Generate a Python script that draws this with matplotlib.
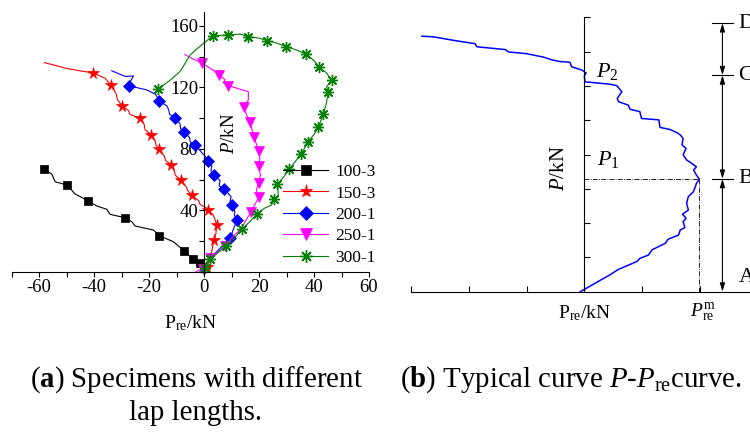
import matplotlib
matplotlib.use("Agg")
import matplotlib.pyplot as plt
from matplotlib.lines import Line2D
from matplotlib.ticker import MultipleLocator

plt.rcParams['font.family'] = ['Liberation Serif', 'DejaVu Serif']
plt.rcParams['mathtext.fontset'] = 'custom'
plt.rcParams['mathtext.rm'] = 'Liberation Serif'
plt.rcParams['mathtext.it'] = 'Liberation Serif:italic'
plt.rcParams['mathtext.bf'] = 'Liberation Serif:bold'

# ---------------- panel (a) data ----------------
labels = ['100-3', '150-3', '200-1', '250-1', '300-1']

s100_x = [0.4, -1.5, -4.1, -7.2, -11.2, -16.3, -18.4, -25.1, -26.3, -28.7, -34.2, -35.4, -39.0, -42.3, -46.9, -49.9, -54.2, -55.4, -58.4]
s100_y = [3.5, 5.6, 8.3, 13.7, 19.7, 23.6, 27.3, 29.9, 32.7, 35.3, 37.5, 40.8, 42.9, 46.4, 50.7, 56.6, 58.7, 63.7, 66.8]
m100_x = [-58.4, -49.9, -42.3, -28.7, -16.3, -7.2, -4.1, -1.5]
m100_y = [66.8, 56.6, 46.4, 35.3, 23.6, 13.7, 8.3, 5.6]

s150_x = [0.0, 1.0, 2.4, 3.6, 4.3, 4.6, 4.0, 3.4, 1.6, 0.5, -1.5, -2.0, -4.5, -6.0, -6.5, -8.5, -10.5, -10.8, -12.0, -14.0, -14.5, -16.3, -17.5, -17.8, -19.3, -21.5, -21.8, -23.3, -27.0, -27.5, -29.9, -31.5, -32.0, -33.9, -36.0, -40.5, -44.0, -50.0, -58.1]
s150_y = [0.0, 3.5, 10.0, 20.8, 25.0, 30.6, 33.8, 37.0, 40.3, 42.0, 44.0, 46.5, 49.8, 53.0, 55.5, 59.8, 63.0, 65.5, 69.8, 72.5, 75.5, 79.7, 82.5, 85.5, 89.4, 92.5, 96.0, 100.0, 102.5, 105.0, 108.1, 112.0, 116.0, 121.5, 126.0, 129.6, 130.5, 132.4, 136.2]
m150_x = [-40.5, -33.9, -29.9, -23.3, -19.3, -16.3, -12.0, -8.5, -4.5, 1.6, 4.6, 3.6, 1.0]
m150_y = [129.6, 121.5, 108.1, 100.0, 89.4, 79.7, 69.8, 59.8, 49.8, 40.3, 30.6, 20.8, 3.5]

s200_x = [-1.5, 0.5, 2.2, 5.0, 7.6, 9.5, 10.5, 11.9, 11.0, 11.2, 10.3, 9.5, 9.8, 7.4, 5.5, 5.8, 3.6, 2.5, 2.8, 1.6, 0.0, -1.5, -3.3, -5.0, -5.3, -7.2, -8.5, -8.8, -10.5, -12.5, -12.8, -13.5, -16.4, -17.6, -20.8, -27.5, -26.9, -25.7, -28.7, -33.6]
s200_y = [0.5, 5.0, 8.9, 14.0, 18.7, 21.9, 27.0, 33.8, 37.0, 39.0, 43.6, 46.0, 49.0, 53.8, 56.0, 59.5, 63.1, 65.5, 69.0, 72.4, 76.0, 79.0, 82.6, 84.5, 87.5, 90.9, 93.0, 96.5, 100.4, 102.5, 105.0, 108.0, 111.4, 115.5, 118.4, 121.2, 123.8, 127.5, 127.2, 130.9]
m200_x = [9.5, 11.9, 10.3, 7.4, 3.6, 1.6, -3.3, -7.2, -10.5, -16.4, -27.5]
m200_y = [21.9, 33.8, 43.6, 53.8, 63.1, 72.4, 82.6, 90.9, 100.4, 111.4, 121.2]

s250_x = [-3.0, -1.0, 2.2, 5.0, 7.6, 10.5, 13.7, 14.9, 17.1, 18.5, 20.1, 19.0, 19.8, 20.5, 19.8, 20.3, 19.8, 18.3, 17.5, 16.7, 15.5, 14.5, 16.1, 16.1, 12.0, 8.8, 7.0, 7.6, 5.6, 3.5, -0.85, -4.0, -7.0]
s250_y = [0.0, 2.0, 8.9, 13.0, 16.9, 23.0, 28.4, 32.7, 39.2, 44.0, 49.0, 53.0, 58.1, 63.0, 68.9, 74.0, 78.5, 87.6, 92.0, 97.8, 102.0, 107.5, 111.9, 117.3, 119.5, 121.2, 123.0, 125.0, 128.1, 131.0, 136.1, 138.5, 141.5]
m250_x = [-0.85, 5.6, 8.8, 14.5, 16.7, 18.3, 19.8, 19.8, 19.8, 20.1, 17.1, 7.6, 2.2, -0.5]
m250_y = [136.1, 128.1, 121.2, 107.5, 97.8, 87.6, 78.5, 68.9, 58.1, 49.0, 39.2, 16.9, 8.9, 2.0]

s300_x = [-1.0, 2.2, 5.0, 8.0, 11.0, 13.7, 16.5, 19.2, 22.0, 24.5, 25.6, 27.0, 26.7, 29.0, 31.0, 33.0, 35.3, 37.9, 40.0, 41.6, 42.5, 43.4, 44.5, 45.2, 44.5, 45.5, 46.4, 44.5, 41.7, 40.0, 37.1, 33.5, 29.7, 26.5, 23.0, 19.5, 15.9, 13.1, 8.6, 3.2, -0.2, -3.0, -5.1, -8.7, -12.5, -16.9]
s300_y = [0.0, 8.2, 12.5, 16.9, 22.0, 27.8, 32.5, 37.7, 41.5, 43.5, 47.3, 50.0, 57.0, 62.0, 66.8, 71.5, 76.7, 84.8, 89.5, 94.1, 98.5, 102.6, 110.0, 117.3, 120.5, 122.5, 124.9, 129.5, 133.5, 137.5, 141.8, 144.5, 146.6, 148.8, 150.5, 152.3, 153.1, 154.8, 154.1, 153.7, 148.7, 144.5, 141.1, 130.5, 124.5, 118.8]
m300_x = [0.5, 2.2, 8.0, 13.7, 19.2, 25.6, 26.7, 31.0, 35.3, 37.9, 41.6, 43.4, 45.2, 46.4, 41.7, 37.1, 29.7, 23.0, 15.9, 8.6, 3.2, -16.9]
m300_y = [2.5, 8.2, 16.9, 27.8, 37.7, 47.3, 57.0, 66.8, 76.7, 84.8, 94.1, 102.6, 117.3, 124.9, 133.5, 141.8, 146.6, 150.5, 153.1, 154.1, 153.7, 118.8]

a_xticks = [-60, -40, -20, 0, 20, 40, 60]
a_yticks = [40, 80, 120, 160]

# ---------------- panel (b) data ----------------
b_x = [-0.07, 0.44, 0.59, 0.91, 0.96, 1.11, 1.17, 1.40, 1.45, 1.63, 1.66, 1.74, 1.71, 1.76, 1.70, 1.80, 1.77, 1.80, 1.89, 1.92, 1.94, 1.99,
       1.94, 1.89, 1.94, 1.86, 1.77, 1.71, 1.76, 1.69, 1.71, 1.66, 1.60, 1.48, 1.31, 1.29, 0.99, 0.96, 0.79, 0.76, 0.59, 0.57, 0.65, 0.56,
       0.44, 0.01, 0.00, 0.03, -0.04, -0.22, -0.25, -0.42, -0.54, -0.71, -1.00, -1.31, -1.37, -1.86, -1.89, -2.27, -2.61, -2.81]
b_y = [0.00, 0.49, 0.65, 0.88, 0.97, 1.07, 1.22, 1.41, 1.53, 1.65, 1.80, 1.87, 2.04, 2.14, 2.26, 2.38, 2.58, 2.77, 2.92, 3.06, 3.16, 3.28,
       3.40, 3.55, 3.64, 3.74, 3.84, 3.99, 4.18, 4.28, 4.47, 4.57, 4.64, 4.73, 4.79, 5.01, 5.05, 5.25, 5.32, 5.44, 5.54, 5.64, 5.83, 6.01,
       6.05, 6.12, 6.29, 6.38, 6.46, 6.56, 6.69, 6.71, 6.75, 6.84, 6.94, 6.99, 7.06, 7.14, 7.23, 7.33, 7.43, 7.45]
peak_x, peak_y = 1.99, 3.28
levels = {'D': 7.83, 'C': 6.31, 'B': 3.29, 'A': 0.0}

W, H = 750, 432
fig = plt.figure(figsize=(7.5, 4.32), dpi=100)

def fx(px):
    return px / W

def fy(py):
    return 1 - py / H

# ---------------- panel (a) ----------------
ax = fig.add_axes([fx(11.7), fy(272), fx(369) - fx(11.7), fy(11.7) - fy(272)])
ax.set_xlim(-70, 60)
ax.set_ylim(0, 169.3)
ax.spines['left'].set_position(('data', 0))
ax.spines['top'].set_visible(False)
ax.spines['right'].set_visible(False)
for s in ['left', 'bottom']:
    ax.spines[s].set_linewidth(0.8)
ax.set_xticks(a_xticks)
ax.set_yticks(a_yticks)
ax.xaxis.set_minor_locator(MultipleLocator(10))
ax.yaxis.set_minor_locator(MultipleLocator(20))
ax.tick_params(axis='both', which='both', direction='out', width=0.8, labelsize=13.5)
ax.tick_params(axis='both', which='major', length=3.3)
ax.tick_params(axis='both', which='minor', length=3.3)
ax.tick_params(axis='x', pad=2)
ax.tick_params(axis='y', pad=1)
ax.set_xticklabels([str(t) for t in a_xticks])

styles = [
    dict(color='black', marker='s', ms=6),
    dict(color='#ff0000', marker='*', ms=8.5),
    dict(color='#0000ff', marker='D', ms=5.8),
    dict(color='#ff00ff', marker='v', ms=7.5),
    dict(color='#008000', marker=(8, 2, 0), ms=8),
]
lines = [(s100_x, s100_y), (s150_x, s150_y), (s200_x, s200_y), (s250_x, s250_y), (s300_x, s300_y)]
marks = [(m100_x, m100_y), (m150_x, m150_y), (m200_x, m200_y), (m250_x, m250_y), (m300_x, m300_y)]
handles = []
for (lx, ly), (mx, my), st, lab in zip(lines, marks, styles, labels):
    ax.plot(lx, ly, color=st['color'], lw=0.8, clip_on=False)
    mew = 1.0 if st['marker'] == (8, 2, 0) else 0.5
    ax.plot(mx, my, ls='none', marker=st['marker'], ms=st['ms'], color=st['color'],
            mec=st['color'], mew=mew, clip_on=False)
    handles.append(Line2D([], [], color=st['color'], lw=0.8, marker=st['marker'],
                          ms=st['ms'] + 1, mec=st['color'], mew=mew))

ax.legend(handles, labels, loc='upper left', bbox_to_anchor=(fx(283), fy(164)),
          bbox_transform=fig.transFigure, frameon=False, borderpad=0, borderaxespad=0,
          handlelength=2.6, handletextpad=0.4, labelspacing=0.3, fontsize=12.5)

fig.text(fx(230), fy(133), r'$P$/kN', rotation=90, ha='center', va='center', fontsize=13.5)
fig.text(fx(190), fy(323), r'P$_{\mathrm{re}}$/kN', ha='center', va='center', fontsize=14)

# ---------------- panel (b) ----------------
bx = fig.add_axes([fx(411), fy(291.7), 1 - fx(411), fy(17.3) - fy(291.7)])
bx.set_xlim(-3.0, 2.867)
bx.set_ylim(0, 8)
bx.spines['left'].set_position(('data', 0))
bx.spines['top'].set_visible(False)
bx.spines['right'].set_visible(False)
for s in ['left', 'bottom']:
    bx.spines[s].set_linewidth(0.8)
bx.set_xticks([-3, -2, -1, 0, 1, 2])
bx.set_yticks([1, 2, 3, 4, 5, 6, 7, 8])
bx.tick_params(axis='both', direction='in', width=0.8, length=4, labelbottom=False, labelleft=False)

bx.plot(b_x, b_y, color='#0000ff', lw=1.1, clip_on=False)
dash = (0, (6, 1.5, 1, 1.5))
bx.plot([0, peak_x], [peak_y, peak_y], color='black', lw=0.6, ls=dash)
bx.plot([peak_x, peak_x], [peak_y, 0], color='black', lw=0.6, ls=dash)

xv = 2.39
for lab in ['D', 'C', 'B']:
    bx.plot([2.21, 2.57], [levels[lab], levels[lab]], color='black', lw=0.8, clip_on=False)
pairs = [('D', 'C'), ('C', 'B'), ('B', 'A')]
for a, b in pairs:
    bx.annotate('', xy=(xv, levels[a]), xytext=(xv, levels[b]),
                arrowprops=dict(arrowstyle='<|-|>,head_length=0.5,head_width=0.15', color='black',
                                lw=0.8, shrinkA=0, shrinkB=0), annotation_clip=False)
label_y = {'D': 7.83, 'C': 6.31, 'B': 3.29, 'A': 0.4}
for lab in ['D', 'C', 'B', 'A']:
    bx.text(2.67, label_y[lab], lab, ha='left', va='center', fontsize=16, clip_on=False)

fig.text(fx(560), fy(168), r'$P$/kN', rotation=90, ha='center', va='center', fontsize=15)
fig.text(fx(596), fy(72), r'$P_2$', ha='left', va='center', fontsize=16)
fig.text(fx(597), fy(160), r'$P_1$', ha='left', va='center', fontsize=16)
fig.text(fx(584), fy(313), r'P$_{\mathrm{re}}$/kN', ha='center', va='center', fontsize=14)
fig.text(fx(703), fy(313), r'$P_{\mathrm{re}}^{\mathrm{m}}$', ha='center', va='center', fontsize=14)

# ---------------- captions ----------------
fig.text(fx(196), fy(380), r'($\mathbf{a}$) Specimens with different', ha='center', va='center', fontsize=20.8)
fig.text(fx(196), fy(413), 'lap lengths.', ha='center', va='center', fontsize=20.8)
fig.text(fx(400), fy(380), r'($\mathbf{b}$) Typical curve $P$-$P_{\mathrm{re}}$curve.', ha='left', va='center', fontsize=20.8)

fig.savefig('out.png', dpi=100)
